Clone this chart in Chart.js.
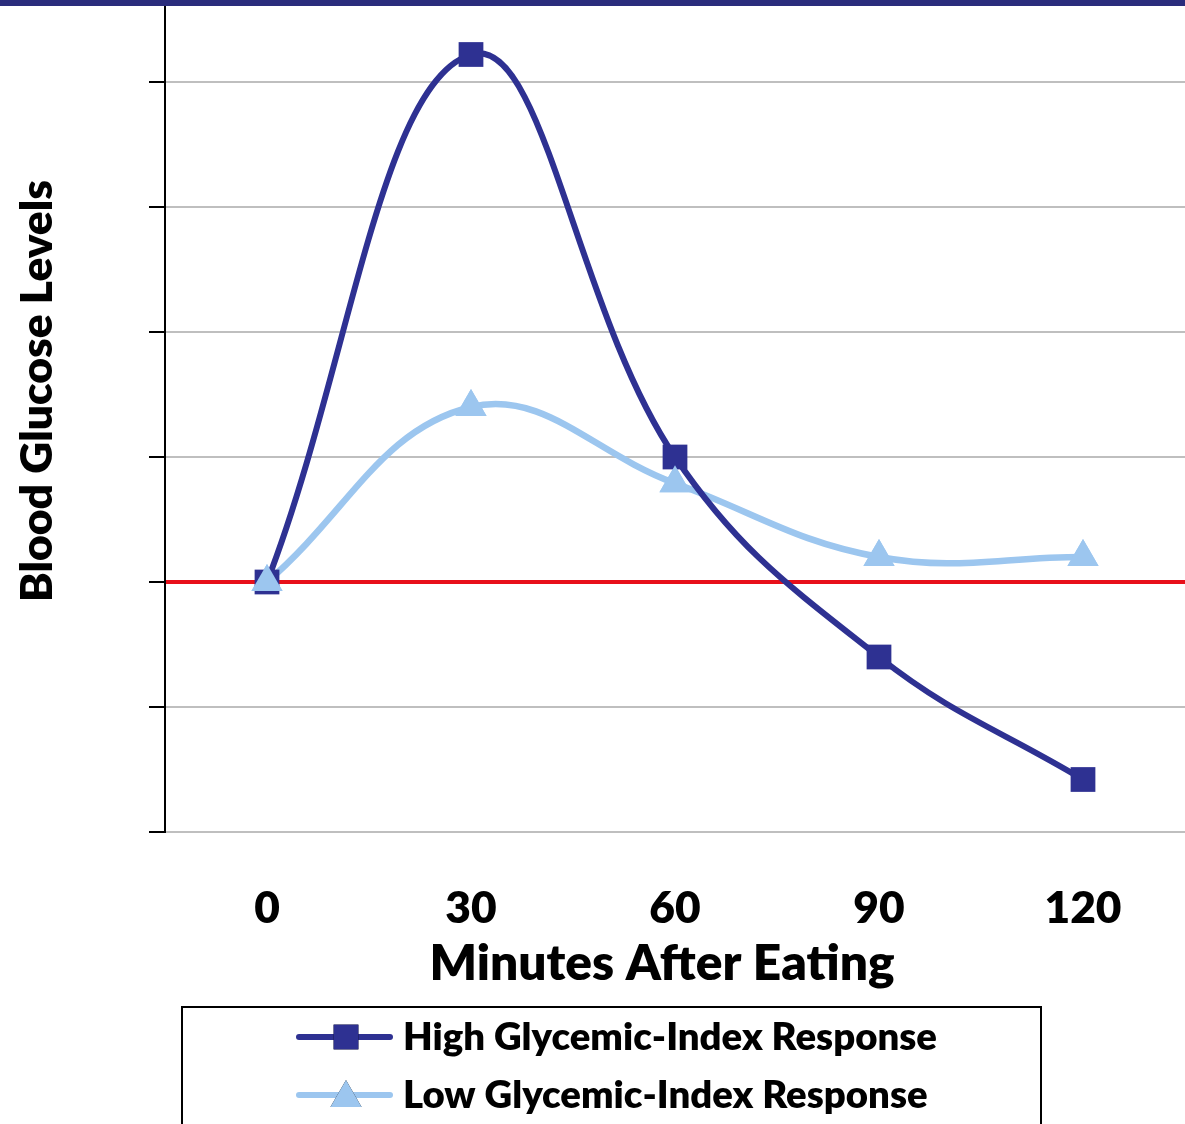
<!DOCTYPE html>
<html>
<head>
<meta charset="utf-8">
<script src="https://cdn.jsdelivr.net/npm/chart.js@4.4.1/dist/chart.umd.min.js"></script>
<style>
html,body{margin:0;padding:0;background:#fff;overflow:hidden}
#wrap{width:1185px;height:1124px;position:relative}
</style>
</head>
<body>
<div id="wrap"><canvas id="c" width="1185" height="1124"></canvas></div>
<script>
// ---- data ----
const categories = ['0', '30', '60', '90', '120'];
const highGI = [2.0, 6.22, 3.0, 1.4, 0.42];
const lowGI  = [2.0, 3.4, 2.79, 2.2, 2.2];
const yTickValues = [0, 1, 2, 3, 4, 5, 6];
const baselineValue = 2;
const seriesNames = ['High Glycemic-Index Response', 'Low Glycemic-Index Response'];
const xTitleText = 'Minutes After Eating';
const yTitleText = 'Blood Glucose Levels';

// ---- style ----
const FAMILY = 'Lato, "Open Sans", "DejaVu Sans", sans-serif';
const WEIGHT = '800';
const DARK = '#2e3192';
const LIGHT = '#9cc6ef';
const RED = '#e8101a';
const GRID = '#bfbfbf';

function fitSize(text, width, weight) {
  const c = document.createElement('canvas').getContext('2d');
  c.font = weight + ' 100px ' + FAMILY;
  return 100 * width / c.measureText(text).width;
}
const tickSize = fitSize('120', 77, WEIGHT);
const xTitleSize = fitSize(xTitleText, 465, WEIGHT);
const yTitleSize = fitSize(yTitleText, 422, WEIGHT);
const legendSize = fitSize(seriesNames[0], 534, WEIGHT);

const decorPlugin = {
  id: 'decor',
  beforeDraw(chart) {
    const ctx = chart.ctx;
    ctx.save();
    ctx.fillStyle = '#fff';
    ctx.fillRect(0, 0, chart.width, chart.height);
    ctx.restore();
  },
  afterDatasetsDraw(chart) {
    // markers of the light series sit above everything (as in the original)
    const ctx = chart.ctx;
    chart.getDatasetMeta(1).data.forEach(pt => pt.draw(ctx, chart.chartArea));
  },
  afterDraw(chart) {
    const ctx = chart.ctx;
    ctx.save();
    // top band
    ctx.fillStyle = '#2a2c7c';
    ctx.fillRect(0, 0, chart.width, 6);
    // x title
    ctx.fillStyle = '#000';
    ctx.font = WEIGHT + ' ' + xTitleSize + 'px ' + FAMILY;
    ctx.textAlign = 'center';
    ctx.textBaseline = 'alphabetic';
    ctx.fillText(xTitleText, 662, 980);
    // y title
    ctx.save();
    ctx.translate(52, 391);
    ctx.rotate(-Math.PI / 2);
    ctx.font = WEIGHT + ' ' + yTitleSize + 'px ' + FAMILY;
    ctx.fillText(yTitleText, 0, 0);
    ctx.restore();
    // legend box
    ctx.strokeStyle = '#000';
    ctx.lineWidth = 2;
    ctx.strokeRect(182, 1007, 859, 130);
    const rows = [1037, 1095];
    chart.data.datasets.forEach((ds, i) => {
      const cy = rows[i];
      ctx.strokeStyle = ds.borderColor;
      ctx.lineWidth = 6;
      ctx.lineCap = 'round';
      ctx.beginPath();
      ctx.moveTo(299, cy);
      ctx.lineTo(390, cy);
      ctx.stroke();
      Chart.helpers.drawPoint(ctx, {
        pointStyle: ds.pointStyle,
        radius: ds.pointRadius,
        borderWidth: 0
      }, 346, ds.pointStyle === 'triangle' ? cy + 3 : cy);
      ctx.fillStyle = ds.backgroundColor;
      ctx.fill();
      ctx.fillStyle = '#000';
      ctx.font = WEIGHT + ' ' + legendSize + 'px ' + FAMILY;
      ctx.textAlign = 'left';
      ctx.textBaseline = 'middle';
      ctx.fillText(ds.label, 403, cy + 1);
    });
    ctx.restore();
  }
};

new Chart(document.getElementById('c'), {
  type: 'line',
  data: {
    labels: categories,
    datasets: [
      {
        label: seriesNames[0],
        data: highGI,
        borderColor: DARK,
        backgroundColor: DARK,
        borderWidth: 6,
        pointStyle: 'rect',
        pointRadius: 17.5,
        pointBorderWidth: 0,
        pointBackgroundColor: DARK,
        tension: 0.4,
        clip: false
      },
      {
        label: seriesNames[1],
        data: lowGI,
        borderColor: LIGHT,
        backgroundColor: LIGHT,
        borderWidth: 6.5,
        pointStyle: 'triangle',
        pointRadius: 18,
        pointBorderWidth: 0,
        pointBackgroundColor: LIGHT,
        tension: 0.4,
        clip: false
      }
    ]
  },
  options: {
    responsive: false,
    animation: false,
    events: [],
    layout: { autoPadding: false, padding: { top: 7, right: 0, left: 0, bottom: 0 } },
    plugins: {
      legend: { display: false },
      tooltip: { enabled: false },
      title: { display: false }
    },
    scales: {
      x: {
        type: 'category',
        offset: true,
        grid: { display: false, drawTicks: false },
        border: { display: false },
        ticks: {
          color: '#000',
          font: { family: FAMILY, size: tickSize, weight: WEIGHT },
          padding: 909.5 - 832 - tickSize * 0.6 - 1,
          maxRotation: 0,
          autoSkip: false
        },
        afterFit(s) { s.height = 1124 - 832; }
      },
      y: {
        min: 0,
        max: 6.6,
        afterBuildTicks(s) { s.ticks = yTickValues.map(v => ({ value: v })); },
        ticks: { display: false },
        grid: {
          color: c => (c.tick && c.tick.value === baselineValue) ? RED : GRID,
          lineWidth: c => (c.tick && c.tick.value === baselineValue) ? 4 : 2,
          drawTicks: true,
          tickLength: 16,
          tickWidth: 2,
          tickColor: '#000'
        },
        border: { display: true, color: '#000', width: 2 },
        afterFit(s) { s.width = 165; }
      }
    }
  },
  plugins: [decorPlugin]
});
</script>
</body>
</html>
